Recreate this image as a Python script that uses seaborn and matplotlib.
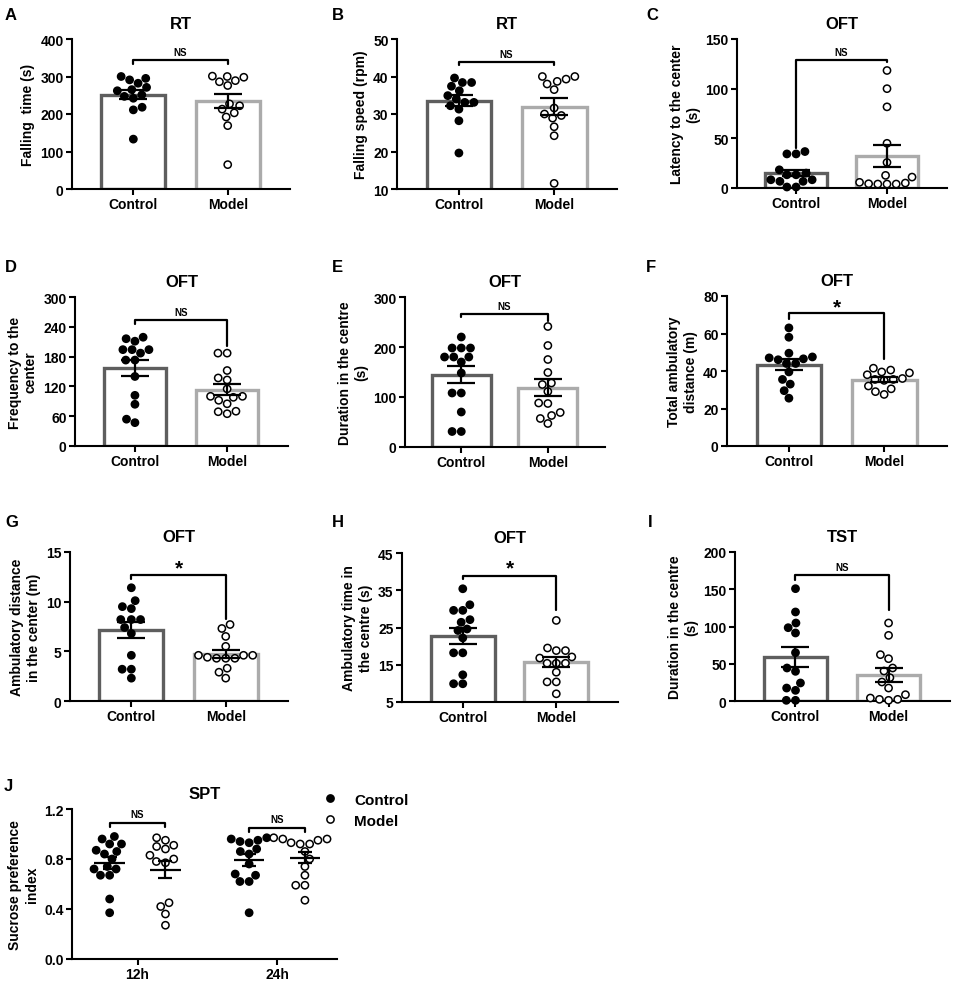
import numpy as np
import pandas as pd
import matplotlib
matplotlib.use("Agg")
import matplotlib.pyplot as plt
from matplotlib.lines import Line2D
import seaborn as sns

# ---------------- data ----------------
groups = ["Control", "Model"]
times = ["12h", "24h"]

# A  RT falling time (s)
rt_time_control = [300, 295, 291, 282, 271, 265, 262, 251, 247, 242, 218, 211, 133]
rt_time_model = [301, 298, 286, 276, 289, 300, 222, 227, 213, 203, 192, 169, 65]
# B  RT falling speed (rpm)
rt_speed_control = [39.6, 38.4, 38.4, 37.4, 36.2, 34.9, 34.0, 33.1, 33.1, 32.2, 31.3, 28.2, 19.6]
rt_speed_model = [40.0, 39.3, 38.7, 40.0, 38.0, 36.5, 31.6, 30.0, 29.6, 28.9, 26.6, 24.2, 11.5]
# C  OFT latency to the center (s)
oft_latency_control = [36.7, 34.3, 34.3, 18.3, 15.0, 13.3, 13.3, 8.3, 8.3, 6.7, 6.7, 1.0, 1.0]
oft_latency_model = [118.3, 100.0, 81.7, 45.0, 25.7, 12.7, 11.0, 5.0, 4.3, 4.0, 4.0, 4.0, 5.7]
# D  OFT frequency to the center
oft_freq_control = [219, 216, 211, 194, 194, 194, 187, 173, 173, 140, 102, 84, 54, 47]
oft_freq_model = [187, 187, 152, 133, 137, 115, 100, 92, 100, 98, 85, 69, 65, 70]
# E  OFT duration in the centre (s)
oft_duration_control = [220, 198, 198, 198, 180, 180, 180, 170, 148, 108, 108, 70, 31, 31]
oft_duration_model = [241, 203, 175, 149, 128, 125, 111, 88, 87, 63, 69, 57, 47]
# F  OFT total ambulatory distance (m)
oft_total_control = [63, 58, 49.5, 47.5, 47, 46.5, 46, 44, 44, 39.5, 35.5, 33, 29.5, 25.5]
oft_total_model = [41.5, 40.5, 39.5, 39, 38, 36, 35.5, 35.5, 35, 32, 30.5, 29, 27.5]
# G  OFT ambulatory distance in the center (m)
oft_center_dist_control = [11.4, 10.1, 9.3, 9.5, 8.2, 8.2, 8.2, 7.4, 6.8, 4.6, 3.2, 3.2, 2.3]
oft_center_dist_model = [7.7, 7.3, 6.5, 5.5, 4.6, 4.4, 4.3, 4.6, 4.3, 4.3, 4.6, 3.3, 2.9, 2.3]
# H  OFT ambulatory time in the centre (s)
oft_center_time_control = [35.4, 31.1, 29.6, 29.6, 27.1, 26.4, 24.6, 24.2, 22.2, 18.2, 18.2, 12.3, 9.9, 9.9]
oft_center_time_model = [26.9, 18.8, 18.8, 19.5, 17.1, 15.4, 15.4, 15.4, 16.8, 13.0, 10.4, 10.4, 7.2]
# I  TST duration (s)
tst_control = [150.8, 119.5, 104.7, 98.4, 91.3, 64.9, 39.8, 44.3, 24.2, 17.4, 14.3, 0.9, 0.9]
tst_model = [104.7, 88.1, 62.2, 56.8, 40.3, 44.3, 31.3, 25.5, 17.4, 8.5, 2.2, 0.9, 2.2, 4.0]
# J  SPT sucrose preference index
spt_12h_control = [0.98, 0.96, 0.92, 0.92, 0.87, 0.86, 0.84, 0.80, 0.74, 0.72, 0.72, 0.67, 0.67, 0.48, 0.37]
spt_12h_model = [0.97, 0.95, 0.91, 0.90, 0.88, 0.83, 0.80, 0.78, 0.77, 0.45, 0.42, 0.36, 0.27]
spt_24h_control = [0.97, 0.96, 0.95, 0.94, 0.93, 0.88, 0.86, 0.84, 0.76, 0.68, 0.67, 0.62, 0.62, 0.37]
spt_24h_model = [0.97, 0.96, 0.96, 0.95, 0.93, 0.92, 0.92, 0.86, 0.80, 0.74, 0.67, 0.59, 0.59, 0.47]

# ---------------- style ----------------
sns.set_style("ticks")
plt.rcParams["font.family"] = ["Liberation Sans", "DejaVu Sans"]
plt.rcParams["font.weight"] = "bold"
plt.rcParams["axes.labelweight"] = "bold"
plt.rcParams["axes.titleweight"] = "bold"
plt.rcParams["axes.linewidth"] = 1.5
for key in ["text.color", "axes.labelcolor", "xtick.color", "ytick.color", "axes.edgecolor"]:
    plt.rcParams[key] = "black"

W, H = 957, 987
fig = plt.figure(figsize=(W / 100, H / 100), dpi=100)

EDGE = {"Control": "#5e5e5e", "Model": "#ababab"}
FACE = {"Control": "black", "Model": "white"}
MSIZE = 5.2
NS_FAMILY = ["Liberation Sans Narrow", "Liberation Sans", "DejaVu Sans"]


def axes_px(l, t, r, b):
    return fig.add_axes([l / W, 1 - b / H, (r - l) / W, (b - t) / H])


def style_axis(ax):
    sns.despine(ax=ax)
    ax.tick_params(width=1.5, length=4, labelsize=10, pad=2, colors="black")
    for lab in ax.get_xticklabels() + ax.get_yticklabels():
        lab.set_fontweight("bold")


def bar_panel(ax, ctrl, model, ylim, yticks, ylabel, title, sig, bracket):
    df = pd.DataFrame({"group": ["Control"] * len(ctrl) + ["Model"] * len(model),
                       "value": list(ctrl) + list(model)})
    sns.barplot(data=df, x="group", y="value", order=groups, color="white",
                errorbar=None, width=0.68, linewidth=2.4, ax=ax)
    for patch, g in zip(ax.patches, groups):
        patch.set_facecolor("white")
        patch.set_edgecolor(EDGE[g])
    sns.swarmplot(data=df, x="group", y="value", order=groups, hue="group",
                  hue_order=groups, palette=FACE, edgecolor="black", linewidth=1.1,
                  size=MSIZE, ax=ax, legend=False)
    for coll in ax.collections:
        coll.set_clip_on(False)
        coll.set_zorder(3)
    for i, vals in enumerate([ctrl, model]):
        v = np.asarray(vals, dtype=float)
        m = v.mean()
        se = v.std(ddof=1) / np.sqrt(len(v))
        ax.errorbar(i, m, yerr=se, color="black", capsize=10, elinewidth=1.6,
                    capthick=1.6, zorder=4)
    yh, yl, yr, yt = bracket
    ax.plot([0, 0, 1, 1], [yl, yh, yh, yr], color="black", lw=1.6, clip_on=False, zorder=5)
    if sig == "NS":
        ax.text(0.5, yt, sig, ha="center", va="center", fontsize=7, fontweight="bold",
                family=NS_FAMILY)
    else:
        ax.text(0.5, yt, sig, ha="center", va="center", fontsize=15, fontweight="bold")
    ax.set_xlim(-0.65, 1.66)
    ax.set_ylim(*ylim)
    ax.set_yticks(yticks)
    ax.set_xlabel("")
    ax.set_ylabel(ylabel, fontsize=10, fontweight="bold", labelpad=4)
    ax.set_title(title, fontsize=12, fontweight="bold", pad=8)
    style_axis(ax)


def letter(x, y, s):
    fig.text(x / W, 1 - y / H, s, fontsize=12, fontweight="bold", ha="left", va="center")


# Row 1
axA = axes_px(72, 40, 290, 190)
bar_panel(axA, rt_time_control, rt_time_model, (0, 400), [0, 100, 200, 300, 400],
          "Falling  time (s)", "RT", "NS", (344, 333, 333, 364))
axB = axes_px(397, 40, 617, 190)
bar_panel(axB, rt_speed_control, rt_speed_model, (10, 50), [10, 20, 30, 40, 50],
          "Falling speed (rpm)", "RT", "NS", (44.0, 43.1, 43.1, 45.9))
axC = axes_px(737, 40, 947, 189)
bar_panel(axC, oft_latency_control, oft_latency_model, (0, 150), [0, 50, 100, 150],
          "Latency to the center\n(s)", "OFT", "NS", (129.3, 40, 126.5, 136.5))

# Row 2
axD = axes_px(75, 298, 288, 447)
bar_panel(axD, oft_freq_control, oft_freq_model, (0, 300), [0, 60, 120, 180, 240, 300],
          "Frequency to the\ncenter", "OFT", "NS", (253, 246, 202, 270))
axE = axes_px(405, 298, 605, 448)
bar_panel(axE, oft_duration_control, oft_duration_model, (0, 300), [0, 100, 200, 300],
          "Duration in the centre\n(s)", "OFT", "NS", (267, 260, 253, 281))
axF = axes_px(727, 297, 947, 447)
bar_panel(axF, oft_total_control, oft_total_model, (0, 80), [0, 20, 40, 60, 80],
          "Total ambulatory\ndistance (m)", "OFT", "*", (70.8, 67.6, 46.2, 74.0))

# Row 3
axG = axes_px(70, 553, 288, 702)
bar_panel(axG, oft_center_dist_control, oft_center_dist_model, (0, 15), [0, 5, 10, 15],
          "Ambulatory distance\nin the center (m)", "OFT", "*", (12.65, 12.25, 8.3, 13.4))
axH = axes_px(402, 554, 618, 703)
bar_panel(axH, oft_center_time_control, oft_center_time_model, (5, 45), [5, 15, 25, 35, 45],
          "Ambulatory time in\nthe centre (s)", "OFT", "*", (38.9, 38.0, 29.6, 41.0))
axI = axes_px(735, 553, 950, 702)
bar_panel(axI, tst_control, tst_model, (0, 200), [0, 50, 100, 150, 200],
          "Duration in the centre\n(s)", "TST", "NS", (168.7, 162.9, 121.7, 180))

# Row 4: J
axJ = axes_px(72, 810, 337, 960)
spt = {("12h", "Control"): spt_12h_control, ("12h", "Model"): spt_12h_model,
       ("24h", "Control"): spt_24h_control, ("24h", "Model"): spt_24h_model}
rows = []
for (t, g), vals in spt.items():
    for v in vals:
        rows.append({"time": t, "group": g, "value": v})
dfJ = pd.DataFrame(rows)
sns.swarmplot(data=dfJ, x="time", y="value", hue="group", order=times, hue_order=groups,
              dodge=True, palette=FACE, edgecolor="black", linewidth=1.1, size=MSIZE,
              ax=axJ, legend=False)
for coll in axJ.collections:
    coll.set_clip_on(False)
for ti, t in enumerate(times):
    for gi, g in enumerate(groups):
        v = np.asarray(spt[(t, g)], dtype=float)
        m = v.mean()
        se = v.std(ddof=1) / np.sqrt(len(v))
        x = ti + (-0.2 if gi == 0 else 0.2)
        axJ.hlines(m, x - 0.11, x + 0.11, color="black", lw=1.6, zorder=4)
        axJ.errorbar(x, m, yerr=se, color="black", capsize=5, elinewidth=1.6,
                     capthick=1.6, zorder=4)
# brackets in J
for ti, (yh, yd, yt) in enumerate([(1.085, 1.058, 1.16), (1.05, 1.02, 1.12)]):
    x0, x1 = ti - 0.2, ti + 0.2
    axJ.plot([x0, x0, x1, x1], [yd, yh, yh, yd], color="black", lw=1.6, clip_on=False)
    axJ.text(ti, yt, "NS", ha="center", va="center", fontsize=7, fontweight="bold",
             family=NS_FAMILY)
axJ.set_xlim(-0.47, 1.43)
axJ.set_ylim(0, 1.2)
axJ.set_yticks([0.0, 0.4, 0.8, 1.2])
axJ.set_yticklabels(["0.0", "0.4", "0.8", "1.2"])
axJ.set_xlabel("")
axJ.set_ylabel("Sucrose preference\nindex", fontsize=10, fontweight="bold", labelpad=4)
axJ.set_title("SPT", fontsize=12, fontweight="bold", pad=8)
style_axis(axJ)

handles = [Line2D([], [], ls="", marker="o", markersize=MSIZE, markerfacecolor=FACE[g],
                  markeredgecolor="black", markeredgewidth=1.1, label=g) for g in groups]
fig.legend(handles=handles, loc="upper left", bbox_to_anchor=(307 / W, 1 - 786 / H),
           frameon=False, prop={"size": 11, "weight": "bold"}, handletextpad=0.6,
           labelspacing=0.45, borderpad=0)

# panel letters
letter(5, 15, "A")
letter(332, 15, "B")
letter(646, 15, "C")
letter(5, 267, "D")
letter(332, 267, "E")
letter(646, 267, "F")
letter(5, 523, "G")
letter(332, 523, "H")
letter(648, 523, "I")
letter(4, 787, "J")

fig.savefig("out.png", dpi=100)
